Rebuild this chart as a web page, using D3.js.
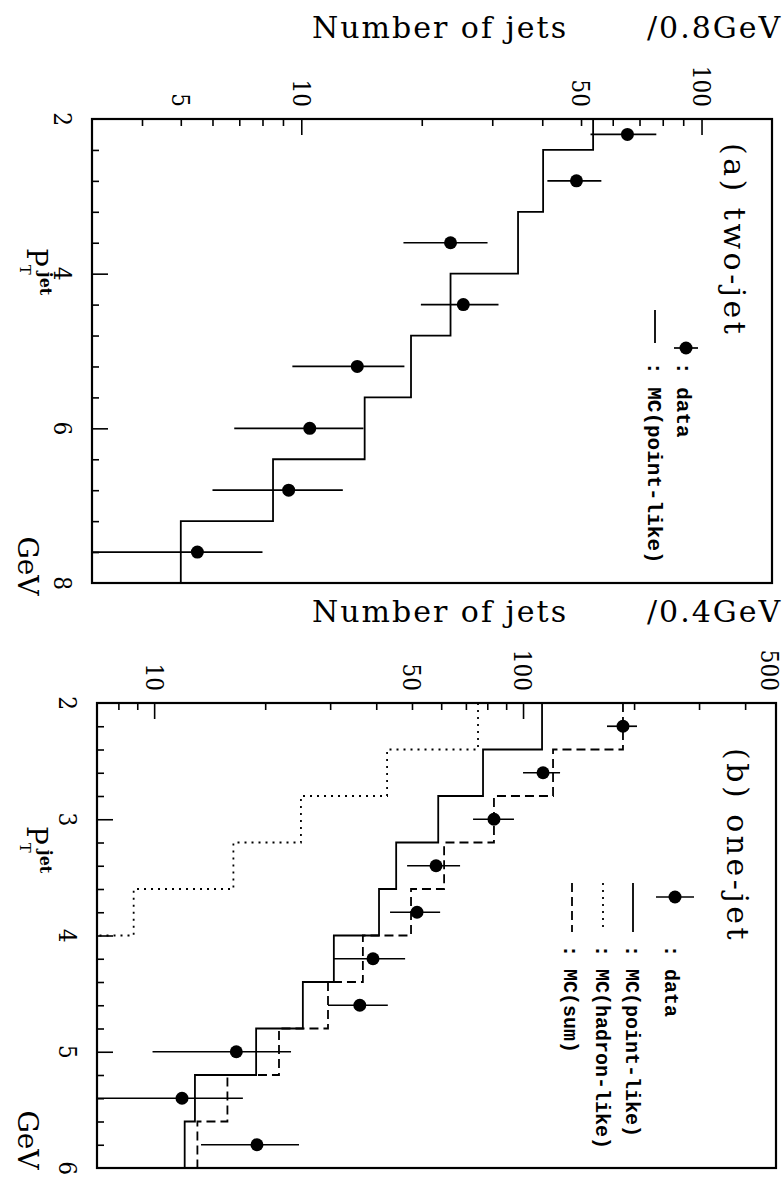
<!DOCTYPE html>
<meta charset="utf-8">
<style>
body { margin: 0; background: #fff; }
svg { display: block; background: #fff; }
.frame { fill: none; stroke: #000; stroke-width: 2.2; }
.ticks .domain { display: none; }
.ticks line { stroke: #000; stroke-width: 1.6; }
.hist { fill: none; stroke: #000; stroke-width: 1.8; }
.err { stroke: #000; stroke-width: 1.7; }
.title { font-family: "DejaVu Serif", serif; font-size: 30px; letter-spacing: 2px; }
.ticklab { font-family: "DejaVu Serif Condensed", "DejaVu Serif", serif; font-size: 24px; }
.axlab { font-family: "DejaVu Serif", serif; font-size: 28px; }
.header { font-family: "DejaVu Serif", serif; font-size: 30px; letter-spacing: 3.5px; }
.leg { font-family: "Liberation Mono", monospace; font-weight: bold; }
</style>
<body>
<script src="https://d3js.org/d3.v7.min.js"></script>
<script>

// ---- panel (a): two-jet, counts per 0.8 GeV ----
var ptTicksA = [2, 4, 6, 8];
var nTicksA = [5, 10, 50, 100];
var edgesA = [2.0, 2.4, 3.2, 4.0, 4.8, 5.6, 6.4, 7.2, 8.0];
var mcPointA = [53.6, 40.2, 34.8, 23.6, 18.8, 14.4, 8.5, 5.0];
var ptDataA = [2.2, 2.8, 3.6, 4.4, 5.2, 6.0, 6.8, 7.6];
var nDataA = [65.3, 48.7, 23.6, 25.4, 13.8, 10.5, 9.3, 5.5];
var errLoA = [52.8, 41.2, 18.0, 19.9, 9.5, 6.8, 6.0, 2.8];
var errHiA = [77.1, 56.2, 29.2, 31.1, 18.1, 14.3, 12.7, 8.0];

// ---- panel (b): one-jet, counts per 0.4 GeV ----
var ptTicksB = [2, 3, 4, 5, 6];
var nTicksB = [10, 50, 100, 500];
var edgesB = [2.0, 2.4, 2.8, 3.2, 3.6, 4.0, 4.4, 4.8, 5.2, 5.6, 6.0];
var mcPointB = [112.6, 77.9, 58.9, 45.3, 40.7, 30.7, 25.3, 18.9, 12.9, 12.1];
var mcHadronB = [75.5, 42.8, 25.0, 16.4, 8.8, 6.1, 4.3, 2.9, 2.9, 1.0];
var mcSumB = [186.6, 120.6, 83.4, 61.1, 49.7, 36.8, 29.6, 21.8, 15.8, 13.1];
var ptDataB = [2.2, 2.6, 3.0, 3.4, 3.8, 4.2, 4.6, 5.0, 5.4, 5.8];
var nDataB = [186.6, 113.3, 83.4, 58.1, 51.6, 39.2, 36.1, 16.7, 11.9, 19.0];
var errLoB = [168.9, 100.0, 73.2, 48.5, 43.6, 30.7, 29.6, 9.9, 6.5, 13.4];
var errHiB = [203.7, 126.0, 94.5, 67.5, 59.6, 47.9, 43.0, 23.5, 17.4, 24.7];


var width = 782, height = 1181;

var svg = d3.select("body").append("svg")
    .attr("width", width)
    .attr("height", height);

// the page is a landscape figure turned a quarter turn clockwise:
// pT runs down the page, the (log) number of jets runs to the right
var panels = [
  { id: "a",
    box: {left: 92, right: 772, top: 119, bottom: 583},
    nDomain: [3, 150], ptDomain: [2, 8], ptStep: 0.4,
    ptTicks: ptTicksA, nTicks: nTicksA, ptLabX: 54,
    edges: edgesA,
    hists: [{vals: mcPointA, dash: null}],
    pt: ptDataA, n: nDataA, lo: errLoA, hi: errHiA,
    titleY: 38, unit: "/0.8GeV",
    header: "(a) two-jet", headerX: 724, headerY: 143,
    legSize: 21, barHalf: 12,
    legend: [
      {kind: "data", col: 686, sy: 348, text: ": data", tx: 684, ty: 362},
      {kind: "line", dash: null, col: 655, sy0: 310, sy1: 343, text: ": MC(point-like)", tx: 655, ty: 362}
    ],
    pLabY: 272, gevY: 566 },
  { id: "b",
    box: {left: 97, right: 776, top: 703, bottom: 1168},
    nDomain: [7, 485], ptDomain: [2, 6], ptStep: 0.2,
    ptTicks: ptTicksB, nTicks: nTicksB, ptLabX: 59,
    edges: edgesB,
    hists: [{vals: mcPointB, dash: null},
            {vals: mcHadronB, dash: "2,5"},
            {vals: mcSumB, dash: "9,5"}],
    pt: ptDataB, n: nDataB, lo: errLoB, hi: errHiB,
    titleY: 622, unit: "/0.4GeV",
    header: "(b) one-jet", headerX: 727, headerY: 748,
    legSize: 20, barHalf: 19,
    legend: [
      {kind: "data", col: 675, sy: 897, text: ": data", tx: 672, ty: 945},
      {kind: "line", dash: null, col: 633, sy0: 883, sy1: 932, text: ": MC(point-like)", tx: 633, ty: 945},
      {kind: "line", dash: "2,5", col: 603, sy0: 883, sy1: 932, text: ": MC(hadron-like)", tx: 603, ty: 945},
      {kind: "line", dash: "9,5", col: 572, sy0: 883, sy1: 932, text: ": MC(sum)", tx: 571, ty: 945}
    ],
    pLabY: 850, gevY: 1140 }
];

function isDecade(v) {
  var l = Math.log10(v);
  return Math.abs(l - Math.round(l)) < 1e-6;
}

// text turned 90 deg clockwise (reads downward, tops of glyphs to the right)
function vtext(g, x, y, str, anchor, cls) {
  return g.append("text")
      .attr("class", cls)
      .attr("transform", "translate(" + x + "," + y + ") rotate(90)")
      .attr("text-anchor", anchor)
      .text(str);
}

panels.forEach(function(p) {

  var x = d3.scaleLog().domain(p.nDomain).range([p.box.left, p.box.right]);
  var y = d3.scaleLinear().domain(p.ptDomain).range([p.box.top, p.box.bottom]);

  var g = svg.append("g").attr("class", "panel-" + p.id);

  var clipId = "clip-" + p.id;
  svg.append("clipPath").attr("id", clipId)
    .append("rect")
      .attr("x", p.box.left).attr("y", p.box.top)
      .attr("width", p.box.right - p.box.left)
      .attr("height", p.box.bottom - p.box.top);

  // count axis ticks along the top edge
  var nAll = x.ticks().filter(function(v) { return v > p.nDomain[0] && v < p.nDomain[1]; });

  g.append("g")
      .attr("class", "ticks")
      .attr("transform", "translate(0," + p.box.top + ")")
      .call(d3.axisTop(x)
        .tickValues(nAll.filter(function(v) { return !isDecade(v); }))
        .tickSize(-7)
        .tickFormat(""));

  g.append("g")
      .attr("class", "ticks")
      .attr("transform", "translate(0," + p.box.top + ")")
      .call(d3.axisTop(x)
        .tickValues(nAll.filter(isDecade))
        .tickSize(-16)
        .tickFormat(""));

  // pT axis ticks along the left edge
  var nSteps = Math.round((p.ptDomain[1] - p.ptDomain[0]) / p.ptStep);
  var ptAll = d3.range(1, nSteps).map(function(k) { return +(p.ptDomain[0] + k * p.ptStep).toFixed(2); });

  g.append("g")
      .attr("class", "ticks")
      .attr("transform", "translate(" + p.box.left + ",0)")
      .call(d3.axisLeft(y)
        .tickValues(ptAll.filter(function(v) { return p.ptTicks.indexOf(v) < 0; }))
        .tickSize(-7)
        .tickFormat(""));

  g.append("g")
      .attr("class", "ticks")
      .attr("transform", "translate(" + p.box.left + ",0)")
      .call(d3.axisLeft(y)
        .tickValues(ptAll.filter(function(v) { return p.ptTicks.indexOf(v) >= 0; }))
        .tickSize(-16)
        .tickFormat(""));

  // tick labels (the last one on the right is kept inside the page)
  p.nTicks.forEach(function(v) {
    var tx = Math.min(x(v), width - 12);
    vtext(g, tx, p.box.top - 12, String(v), "end", "ticklab").attr("dy", "0.36em");
  });
  p.ptTicks.forEach(function(v) {
    vtext(g, p.ptLabX, y(v), String(v), "middle", "ticklab");
  });

  // MC histograms
  var line = d3.line()
      .x(function(d) { return x(d[1]); })
      .y(function(d) { return y(d[0]); });

  p.hists.forEach(function(h) {
    var pts = [];
    h.vals.forEach(function(v, k) {
      pts.push([p.edges[k], v]);
      pts.push([p.edges[k + 1], v]);
    });
    g.append("path")
        .attr("class", "hist")
        .attr("clip-path", "url(#" + clipId + ")")
        .attr("stroke-dasharray", h.dash)
        .attr("d", line(pts));
  });

  // data points with error bars
  var data = p.pt.map(function(v, k) {
    return {pt: v, n: p.n[k], lo: p.lo[k], hi: p.hi[k]};
  });

  var dg = g.append("g").attr("clip-path", "url(#" + clipId + ")");

  dg.selectAll("line.err")
    .data(data)
    .enter().append("line")
      .attr("class", "err")
      .attr("x1", function(d) { return x(d.lo); })
      .attr("x2", function(d) { return x(d.hi); })
      .attr("y1", function(d) { return y(d.pt); })
      .attr("y2", function(d) { return y(d.pt); });

  dg.selectAll("circle")
    .data(data)
    .enter().append("circle")
      .attr("cx", function(d) { return x(d.n); })
      .attr("cy", function(d) { return y(d.pt); })
      .attr("r", 6.5)
      .attr("fill", "#000");

  // frame
  g.append("rect")
      .attr("class", "frame")
      .attr("x", p.box.left).attr("y", p.box.top)
      .attr("width", p.box.right - p.box.left)
      .attr("height", p.box.bottom - p.box.top);

  // axis titles
  g.append("text").attr("class", "title")
      .attr("x", 312).attr("y", p.titleY)
      .text("Number of jets");
  g.append("text").attr("class", "title")
      .attr("x", 647).attr("y", p.titleY)
      .text(p.unit);

  var pl = g.append("text")
      .attr("class", "axlab")
      .attr("transform", "translate(27," + (p.pLabY - 24) + ") rotate(90)");
  pl.append("tspan").text("P");
  pl.append("tspan").attr("font-size", 15).attr("dy", 7).attr("dx", -2).text("T");
  pl.append("tspan").attr("font-size", 16).attr("font-weight", "bold").attr("dy", -20).attr("dx", -3).text("jet");

  vtext(g, 18, p.gevY, "GeV", "middle", "axlab");

  // legend
  vtext(g, p.headerX, p.headerY, p.header, "start", "header");

  p.legend.forEach(function(e) {
    if (e.kind === "data") {
      g.append("line").attr("class", "err")
          .attr("x1", e.col - p.barHalf).attr("x2", e.col + p.barHalf)
          .attr("y1", e.sy).attr("y2", e.sy);
      g.append("circle").attr("cx", e.col).attr("cy", e.sy).attr("r", 6.5).attr("fill", "#000");
    } else {
      g.append("line").attr("class", "hist")
          .attr("stroke-dasharray", e.dash)
          .attr("x1", e.col).attr("x2", e.col)
          .attr("y1", e.sy0).attr("y2", e.sy1);
    }
    vtext(g, e.tx, e.ty, e.text, "start", "leg")
        .attr("font-size", p.legSize)
        .attr("dy", "0.35em");
  });
});

</script>
